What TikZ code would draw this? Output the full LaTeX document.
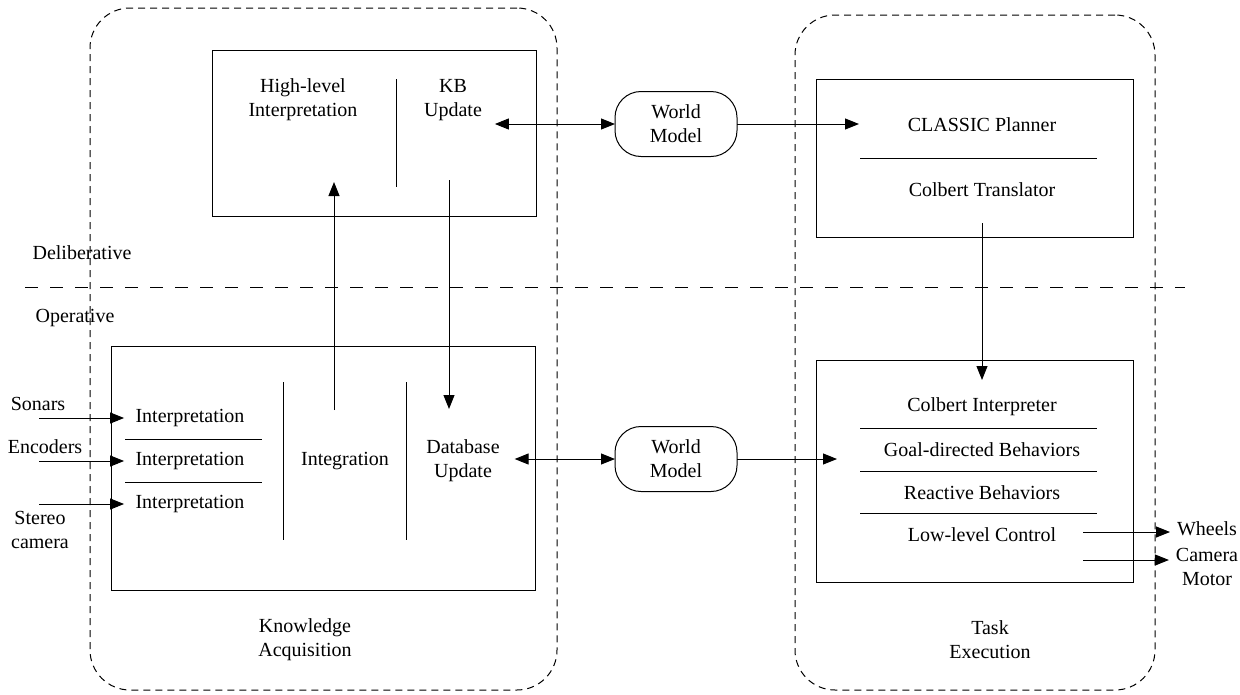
\documentclass[tikz,border=0pt]{standalone}
\usepackage{fontspec}
\setmainfont{Liberation Serif}
\usetikzlibrary{arrows.meta}
\begin{document}
\begin{tikzpicture}[x=1pt,y=-1pt, line width=1pt,
  every node/.style={font=\fontsize{20}{24}\selectfont, align=center, inner sep=0pt, outer sep=0pt},
  blk/.style={draw, rectangle},
  grp/.style={draw, dash pattern=on 7pt off 5pt, rounded corners=40pt},
  wm/.style={draw, rounded corners=26pt, minimum width=122pt, minimum height=65pt},
  tip/.tip={Triangle[length=14pt,width=11pt]},
  arr/.style={-tip},
  darr/.style={tip-tip},
  lvl/.style={dash pattern=on 13pt off 12pt}
]
\useasboundingbox (0,0) rectangle (1240,694);

% groups
\node[grp, minimum width=467pt, minimum height=682pt] (kagrp) at (323.5,349) {};
\node[grp, minimum width=360pt, minimum height=675pt] (tegrp) at (975,352.5) {};
\node (kalbl) at (305,640) {Knowledge\\Acquisition};
\node (telbl) at (990,640) {Task\\Execution};

% level line
\draw[lvl] (25,287) -- (1185,287);
\node (delib) at (82,253) {Deliberative};
\node (oper) at (75,318) {Operative};

% top-left box
\node[blk, minimum width=324pt, minimum height=166pt] (hlbox) at (374,133) {};
\draw (396,79) -- (396,187);
\node (hli) at (303,100) {High-level\\Interpretation};
\node[inner xsep=13pt] (kbu) at (453,100) {KB\\Update};

% bottom-left box
\node[blk, minimum width=424pt, minimum height=244pt] (kabox) at (323,468) {};
\draw (283,382) -- (283,540);
\draw (406,382) -- (406,540);
\node[inner xsep=11.5pt] (i1) at (190,418) {Interpretation};
\node[inner xsep=11.5pt] (i2) at (190,461) {Interpretation};
\node[inner xsep=11.5pt] (i3) at (190,504) {Interpretation};
\draw (125,439) -- (262,439);
\draw (125,482) -- (262,482);
\node (integ) at (345,461) {Integration};
\node[inner xsep=15pt] (db) at (463,461) {Database\\Update};

% inputs
\node (sonars) at (38,404) {Sonars};
\node (enc) at (45,447) {Encoders};
\node (stereo) at (40,530) {Stereo\\camera};
\coordinate (s1) at (39,418);
\coordinate (s2) at (39,461);
\coordinate (s3) at (39,504);
\draw[arr] (s1) -- (i1.west);
\draw[arr] (s2) -- (i2.west);
\draw[arr] (s3) -- (i3.west);

% world models
\node[wm] (wm1) at (676,124) {World\\Model};
\node[wm] (wm2) at (676,459) {World\\Model};

% top-right box
\node[blk, minimum width=317pt, minimum height=158pt] (tpbox) at (974.5,158) {};
\node (cp) at (982,125) {CLASSIC Planner};
\draw (860,158) -- (1097,158);
\node (ct) at (982,190) {Colbert Translator};

% bottom-right box
\node[blk, minimum width=317pt, minimum height=222pt] (tebox) at (974.5,471) {};
\node (ci) at (982,407) {Colbert Interpreter};
\draw (860,428) -- (1097,428);
\node (gd) at (982,450) {Goal-directed Behaviors};
\draw (860,471) -- (1097,471);
\node (rb) at (982,493) {Reactive Behaviors};
\draw (860,513) -- (1097,513);
\node (ll) at (982,535) {Low-level Control};

% outputs
\node[inner xsep=7pt] (wheels) at (1207,529) {Wheels};
\node[inner xsep=7pt] (cam) at (1207,567) {Camera\\Motor};
\coordinate (o1) at (1083,532);
\coordinate (o2) at (1083,560);
\draw[arr] (o1) -- (wheels.west |- o1);
\draw[arr] (o2) -- (cam.west |- o2);

% connectors
\draw[darr] (kbu.east |- wm1.west) -- (wm1.west);
\coordinate (cpin) at (859,124);
\draw[arr] (wm1.east) -- (cpin);
\draw[darr] (db.east |- wm2.west) -- (wm2.west);
\coordinate (gdin) at (837,459);
\draw[arr] (wm2.east) -- (gdin);

\coordinate (intup) at (334,410);
\coordinate (hlin) at (334,182);
\draw[arr] (intup) -- (hlin);
\coordinate (kbdown) at (449,180);
\coordinate (dbin) at (449,409);
\draw[arr] (kbdown) -- (dbin);
\coordinate (ctout) at (982,223);
\coordinate (ciin) at (982,380);
\draw[arr] (ctout) -- (ciin);
\end{tikzpicture}
\end{document}
